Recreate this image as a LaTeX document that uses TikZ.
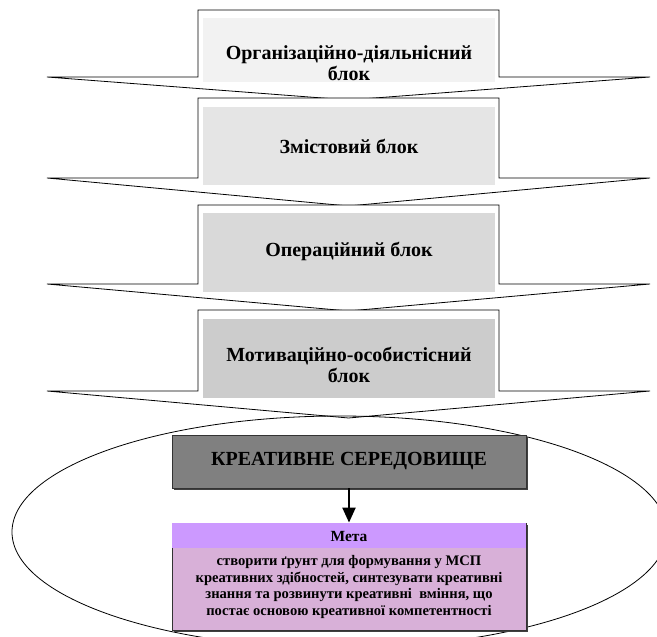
\documentclass[tikz,border=0pt]{standalone}
\usepackage{fontspec}
\setmainfont{Liberation Serif}
\usetikzlibrary{arrows.meta,shadows}
% arrow shape of one block: (top:wing:tip)
\def\strilka(#1:#2:#3){\draw[line width=0.8pt,fill=white] (198,#1) -- (499,#1) -- (499,#2) -- (650,#2) -- (348.5,#3) -- (47,#2) -- (198,#2) -- cycle;}

\definecolor{metahead}{RGB}{204,153,255}
\definecolor{metabody}{RGB}{216,176,216}

\tikzset{
	bloktext/.style={align=center,font=\bfseries\fontsize{20}{21}\selectfont,inner sep=0pt},
	metatext/.style={align=center,font=\bfseries\fontsize{14.6}{16.7}\selectfont,inner sep=0pt},
	tin/.style={drop shadow={shadow xshift=1.5pt,shadow yshift=-1.5pt,fill=black!75,opacity=1}},
}

\begin{document}
\begin{tikzpicture}[x=1pt,y=-1pt]
				\clip (0,0) rectangle (657,637);
				\fill[white] (0,0) rectangle (657,637);
				
				\strilka(10:77:100)
				\fill[black!5] (203,18) rectangle (495,82);
				\node[bloktext] (org) at (349,63) {Організаційно-діяльнісний\\блок};
				
				\strilka(98:178:206)
				\fill[black!10] (203,107) rectangle (495,185);
				\node[bloktext] (zmist) at (349,146) {Змістовий блок};
				
				\strilka(205:284:311)
				\fill[black!15] (203,213) rectangle (495,292);
				\node[bloktext] (oper) at (349,251) {Операційний блок};
				
				\strilka(310:391:418)
				\fill[black!20] (203,319) rectangle (495,398);
				\node[bloktext] (motyv) at (349,365) {Мотиваційно-особистісний\\блок};
				
				\draw[line width=0.8pt] (339.5,532) ellipse (327.5 and 116);
				
				\node[tin,draw=black!80,line width=0.8pt,fill=black!50,minimum width=354pt,minimum height=53pt,inner sep=0pt,font=\bfseries\fontsize{20}{22}\selectfont] (kreat) at (349,461.5) {КРЕАТИВНЕ СЕРЕДОВИЩЕ};
				
				\node[tin,draw=black!80,line width=0.8pt,fill=metabody,minimum width=354pt,minimum height=107pt,inner sep=0pt] (meta) at (349,576.5) {};
				\fill[metahead] ([shift={(0.4pt,-0.4pt)}]meta.north west) rectangle ([shift={(-0.4pt,-25pt)}]meta.north east);
				\node[metatext,font=\bfseries\fontsize{15.5}{16}\selectfont] (metaname) at (349,536) {Мета};
				\node[metatext] (metazmist) at (349,587) {створити ґрунт для формування у МСП\\креативних здібностей, синтезувати креативні\\знання та розвинути креативні \ вміння, що\\постає основою креативної компетентності};
				
				\draw[line width=2.2pt,-{Triangle[length=15pt,width=13pt]}] (kreat) -- (meta);
			\end{tikzpicture}
\end{document}
